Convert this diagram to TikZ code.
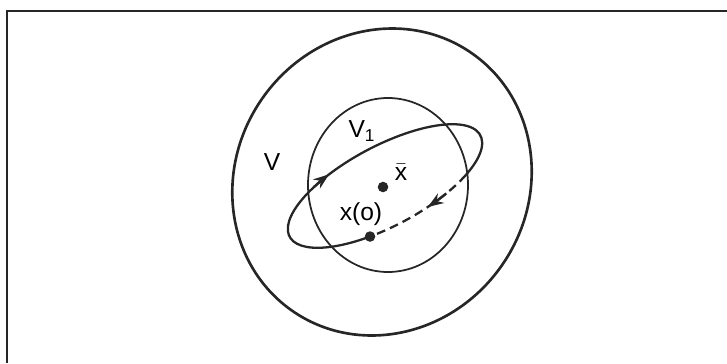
\documentclass[tikz,border=0pt]{standalone}
\usepackage{fontspec}
\setsansfont{Liberation Sans}
\usepackage{tikz}
\usetikzlibrary{arrows.meta}

\begin{document}
\begin{tikzpicture}[
    x=0.02cm, y=0.02cm,
    frame/.style={line width=1.7pt, black!85},
    region/.style={line width=1.5pt, black!85},
    ball/.style={line width=1pt, black!85},
    orbit/.style={line width=1.3pt, black!85},
    orbitdash/.style={orbit, dash pattern=on 5pt off 3pt},
    tip/.style={orbit, -{Stealth[length=9pt, width=6.5pt]}},
    dot/.style={circle, fill=black!85, inner sep=0pt, minimum size=6pt},
    lbl/.style={font=\sffamily\fontsize{14}{16}\selectfont, inner sep=1pt}
]
\useasboundingbox (0,0) rectangle (727,363);

% Frame
\coordinate (frame_tl) at (7,352);
\coordinate (frame_tr) at (727,352);
\coordinate (frame_bl) at (7,0);
\draw[frame] (frame_tr) -- (frame_tl) -- (frame_bl);

% Regions V and V1
\draw[region] (382,181) ellipse[x radius=157, y radius=146, rotate=55];
\draw[ball] (388,178) ellipse[x radius=80, y radius=87];

% Orbit
\begin{scope}[shift={(385,177)}, rotate=28]
  \coordinate (x0) at (250:108 and 40);
  \coordinate (switch) at (-45:108 and 40);
  \coordinate (tipa) at (126:108 and 40);
  \coordinate (tipb) at (-62:108 and 40);
  \draw[orbit] (x0) arc[start angle=250, end angle=-45, x radius=108, y radius=40];
  \draw[orbitdash] (switch) arc[start angle=-45, end angle=-110, x radius=108, y radius=40];
  \draw[tip] (tipa) arc[start angle=126, end angle=114, x radius=108, y radius=40];
  \draw[tip] (tipb) arc[start angle=-62, end angle=-75, x radius=108, y radius=40];
\end{scope}

% Points
\node[dot] (xbar) at (383,176) {};
\node[dot] (xstart) at (x0) {};

% Labels
\node[lbl] (lab_v) at (272,201) {V};
\node[lbl] (lab_v1) at (362,232) {V\textsubscript{1}};
\node[lbl] (lab_xbar) at (401,191) {$\bar{\mbox{x}}$};
\node[lbl] (lab_x0) at (361,149) {x(o)};

\end{tikzpicture}
\end{document}
